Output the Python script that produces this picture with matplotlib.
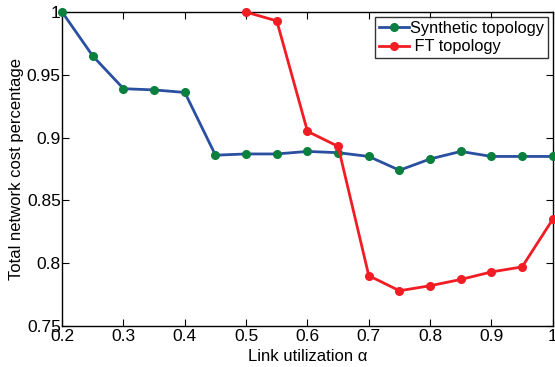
import matplotlib
matplotlib.use("Agg")
import matplotlib.pyplot as plt

plt.rcParams['font.family'] = ['Liberation Sans', 'DejaVu Sans']

alpha_syn = [0.2, 0.25, 0.3, 0.35, 0.4, 0.45, 0.5, 0.55, 0.6, 0.65,
             0.7, 0.75, 0.8, 0.85, 0.9, 0.95, 1.0]
cost_syn = [1.0, 0.965, 0.939, 0.938, 0.936, 0.886, 0.887, 0.887, 0.889, 0.888,
            0.885, 0.874, 0.883, 0.889, 0.885, 0.885, 0.885]

alpha_ft = [0.5, 0.55, 0.6, 0.65, 0.7, 0.75, 0.8, 0.85, 0.9, 0.95, 1.0]
cost_ft = [1.0, 0.993, 0.905, 0.893, 0.790, 0.778, 0.782, 0.787, 0.793, 0.797, 0.835]

xticks = [0.2, 0.3, 0.4, 0.5, 0.6, 0.7, 0.8, 0.9, 1.0]
xticklabels = ['0.2', '0.3', '0.4', '0.5', '0.6', '0.7', '0.8', '0.9', '1']
yticks = [0.75, 0.8, 0.85, 0.9, 0.95, 1.0]
yticklabels = ['0.75', '0.8', '0.85', '0.9', '0.95', '1']

fig = plt.figure(figsize=(5.55, 3.67), dpi=100)
ax = fig.add_axes([0.112, 0.112, 0.884, 0.855])

ax.plot(alpha_syn, cost_syn, '-o', color='#2a4fa0', lw=2, ms=5.5,
        mfc='#0b7f3e', mec='#0b7f3e', label='Synthetic topology', clip_on=False, zorder=3)
ax.plot(alpha_ft, cost_ft, '-o', color='#f21c24', lw=2, ms=5.5,
        mfc='#f21c24', mec='#f21c24', label=' FT topology', clip_on=False, zorder=3)

ax.set_xlim(0.2, 1.0)
ax.set_ylim(0.75, 1.0)
ax.set_xticks(xticks)
ax.set_xticklabels(xticklabels)
ax.set_yticks(yticks)
ax.set_yticklabels(yticklabels)
ax.tick_params(direction='in', top=True, right=True, labelsize=12.5, pad=1, length=5)
ax.tick_params(axis='x', pad=2.5)
for s in ax.spines.values():
    s.set_linewidth(1.0)

ax.set_xlabel('Link utilization α', fontsize=12, labelpad=3)
ax.set_ylabel('Total network cost percentage', fontsize=12, labelpad=2)

leg = ax.legend(loc='upper right', fontsize=11.8, frameon=True, fancybox=False,
                handlelength=1.8, handletextpad=0.05, borderpad=0.25,
                labelspacing=0.2, borderaxespad=0.3)
leg.get_frame().set_edgecolor('black')
leg.get_frame().set_linewidth(1.0)

fig.savefig('out.png', dpi=100)
